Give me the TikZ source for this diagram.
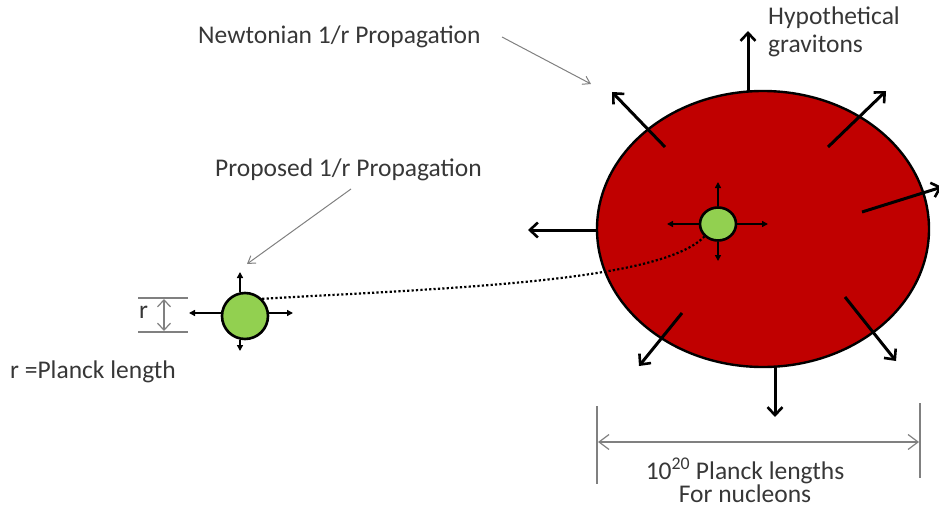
\documentclass[tikz,border=0pt]{standalone}
\usepackage{fontspec}
\setmainfont{Carlito}
\usetikzlibrary{arrows.meta,shapes.geometric}
\definecolor{nucred}{RGB}{192,0,0}
\definecolor{pgreen}{RGB}{146,208,80}
\definecolor{txtgray}{RGB}{55,55,55}
\tikzset{
  grav/.style={line width=3pt,-{Straight Barb[length=8pt,width=15pt,line width=2.6pt]}},
  small/.style={line width=1.4pt,-{Triangle[length=6pt,width=6pt]}},
  lbl/.style={font=\fontsize{25.5}{28}\selectfont,text=txtgray,inner sep=0pt},
  pointer/.style={draw=gray,line width=1pt,-{Straight Barb[length=7pt,width=9pt]}},
  dim/.style={draw=gray,line width=1.2pt},
  dimarrow/.style={draw=gray,line width=1.2pt,{Straight Barb[length=10pt,width=15pt]}-{Straight Barb[length=10pt,width=15pt]}}
}
\begin{document}
\begin{tikzpicture}[x=1pt,y=-1pt]
\useasboundingbox (0,0) rectangle (939,508);
% big nucleus
\node[draw=black,line width=2.4pt,fill=nucred,ellipse,minimum width=332pt,minimum height=276pt,inner sep=0pt] (nuc) at (763,229) {};
% graviton arrows
\coordinate (gT1) at (748,91);  \coordinate (gT2) at (748,31);
\coordinate (gUR1) at (828,147); \coordinate (gUR2) at (886,91);
\coordinate (gR1) at (862,212); \coordinate (gR2) at (942,187);
\coordinate (gL1) at (597,230); \coordinate (gL2) at (528,230);
\coordinate (gUL1) at (665,147); \coordinate (gUL2) at (612,92);
\coordinate (gLL1) at (682,313); \coordinate (gLL2) at (639,366);
\coordinate (gLR1) at (845,297); \coordinate (gLR2) at (896,361);
\coordinate (gB1) at (775,367); \coordinate (gB2) at (775,417);
\foreach \g in {T,UR,R,L,UL,LL,LR,B} \draw[grav] (g\g1) -- (g\g2);
% inner green
\node[draw=black,line width=2.6pt,fill=pgreen,ellipse,minimum width=36pt,minimum height=33pt,inner sep=0pt] (gin) at (718,224) {};
\coordinate (inL) at (667,224); \coordinate (inR) at (768,224);
\coordinate (inU) at (718,182); \coordinate (inD) at (718,261);
\draw[small] (gin.west) -- (inL);
\draw[small] (gin.east) -- (inR);
\draw[small] (gin.north) -- (inU);
\draw[small] (gin.south) -- (inD);
% outer green
\node[draw=black,line width=2.6pt,fill=pgreen,ellipse,minimum width=46pt,minimum height=46pt,inner sep=0pt] (gout) at (245,316) {};
\coordinate (ouL) at (189,313); \coordinate (ouR) at (293,313);
\coordinate (ouU) at (240,272); \coordinate (ouD) at (240,351);
\draw[small] (gout.west |- ouL) -- (ouL);
\draw[small] (gout.east |- ouR) -- (ouR);
\draw[small] (gout.north -| ouU) -- (ouU);
\draw[small] (gout.south -| ouD) -- (ouD);
% dotted connection
\draw[line width=2.2pt,dash pattern=on 2.2pt off 2.2pt] (gout.north east) .. controls (450,288) and (660,282) .. (gin.south west);
% r dimension
\coordinate (rA1) at (138,298); \coordinate (rA2) at (188,298);
\coordinate (rB1) at (138,332); \coordinate (rB2) at (188,332);
\draw[dim] (rA1) -- (rA2);
\draw[dim] (rB1) -- (rB2);
\coordinate (rU) at (164,299); \coordinate (rD) at (164,331);
\draw[draw=gray,line width=1.2pt,{Straight Barb[length=7pt,width=13pt]}-{Straight Barb[length=7pt,width=13pt]}] (rU) -- (rD);
\node[lbl,anchor=base west] (rlab) at (139,318) {r};
\node[lbl,anchor=base west] (planck) at (10,378) {r =Planck length};
% bottom dimension
\coordinate (dL1) at (597,406); \coordinate (dL2) at (597,484);
\coordinate (dR1) at (920,403); \coordinate (dR2) at (920,478);
\draw[dim] (dL1) -- (dL2);
\draw[dim] (dR1) -- (dR2);
\coordinate (dA) at (598,442); \coordinate (dB) at (919,442);
\draw[dimarrow] (dA) -- (dB);
\node[lbl,anchor=base] (ten) at (745,479) {10\textsuperscript{20} Planck lengths};
\node[lbl,anchor=base] (nuclab) at (745,502) {For nucleons};
% labels
\node[lbl,anchor=base west] (newt) at (198,44) {Newtonian 1/r Propagation};
\coordinate (nA) at (502,37); \coordinate (nB) at (591,84);
\draw[pointer] (nA) -- (nB);
\node[lbl,anchor=base west] (prop) at (215,176) {Proposed 1/r Propagation};
\coordinate (pA) at (351,189); \coordinate (pB) at (247,264);
\draw[pointer] (pA) -- (pB);
\node[lbl,anchor=base west] (hyp1) at (768,25) {Hypothetical};
\node[lbl,anchor=base west] (hyp2) at (768,53) {gravitons};
\end{tikzpicture}
\end{document}
